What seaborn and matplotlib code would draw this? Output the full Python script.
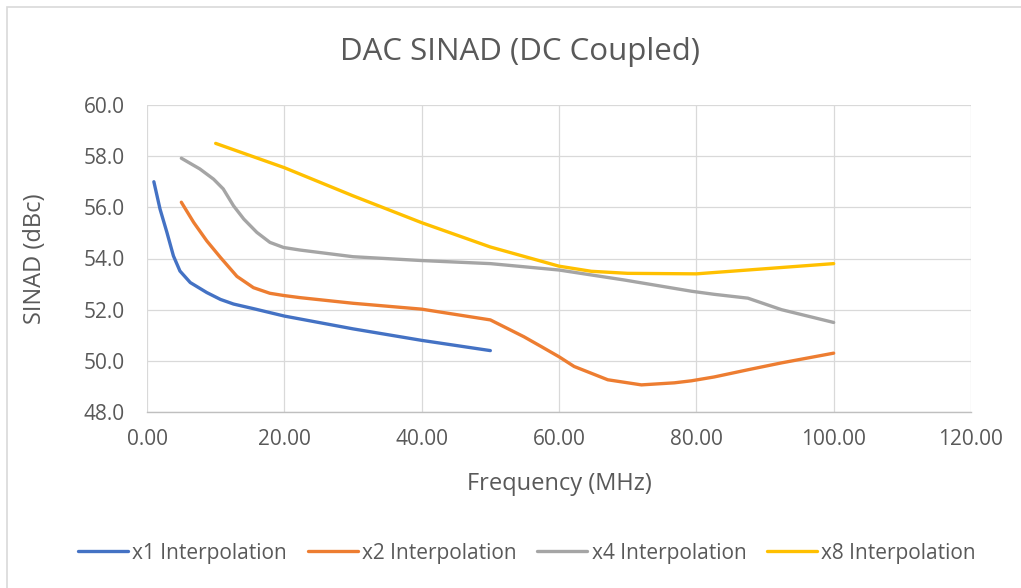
import pandas as pd
import seaborn as sns
import matplotlib.pyplot as plt
from matplotlib.patches import Rectangle

# Values (frequency in MHz, SINAD in dBc)
x1_freq = [1, 1.9, 2.9, 3.85, 4.8, 6.3, 8.7, 10.7, 12.6, 15.5, 20, 30, 40, 50]
x1_sinad = [57.0, 55.93, 55.02, 54.1, 53.51, 53.06, 52.67, 52.4, 52.22, 52.04, 51.75, 51.25, 50.8, 50.4]

x2_freq = [5, 6.8, 8.7, 10.7, 13.1, 15.5, 17.9, 20, 22.3, 30, 40, 50, 54.9, 57.4, 60,
           62.2, 67.1, 72, 76.8, 79.3, 82.6, 87.5, 92.4, 100]
x2_sinad = [56.2, 55.41, 54.69, 54.04, 53.3, 52.86, 52.64, 52.55, 52.47, 52.25, 52.02, 51.6, 50.94,
            50.56, 50.16, 49.78, 49.26, 49.06, 49.14, 49.22, 49.37, 49.65, 49.92, 50.3]

x4_freq = [5, 7.7, 9.7, 11.1, 12.6, 14.1, 16, 17.9, 19.9, 22.3, 30, 40, 50, 60, 69.5, 79.3, 82.6,
           87.5, 92.4, 100]
x4_sinad = [57.92, 57.5, 57.1, 56.72, 56.06, 55.54, 55.02, 54.63, 54.43, 54.33, 54.07, 53.92, 53.8,
            53.55, 53.16, 52.72, 52.6, 52.45, 52.0, 51.5]

x8_freq = [10, 20, 30, 40, 50, 60, 64.7, 70, 80, 87.5, 100]
x8_sinad = [58.5, 57.55, 56.45, 55.4, 54.45, 53.7, 53.5, 53.42, 53.4, 53.55, 53.8]

labels = ['x1 Interpolation', 'x2 Interpolation', 'x4 Interpolation', 'x8 Interpolation']
colors = ['#4472C4', '#ED7D31', '#A5A5A5', '#FFC000']

frames = []
for lab, f, s in zip(labels, [x1_freq, x2_freq, x4_freq, x8_freq],
                     [x1_sinad, x2_sinad, x4_sinad, x8_sinad]):
    frames.append(pd.DataFrame({'freq': f, 'sinad': s, 'series': lab}))
df = pd.concat(frames, ignore_index=True)

sns.set_theme(style='whitegrid')
plt.rcParams['font.family'] = ['Open Sans', 'DejaVu Sans']
text_col = '#595959'

fig = plt.figure(figsize=(10.21, 5.88), dpi=100)
ax = fig.add_axes([147 / 1021, 1 - 412 / 588, (971 - 147) / 1021, (412 - 105) / 588])

sns.lineplot(data=df, x='freq', y='sinad', hue='series', palette=dict(zip(labels, colors)),
             sort=False, estimator=None, linewidth=2.4, ax=ax, legend=True)
for line in ax.lines:
    line.set_solid_joinstyle('round')
    line.set_solid_capstyle('round')

ax.set_xlim(0, 120)
ax.set_ylim(48, 60)
ax.set_xticks(range(0, 121, 20))
ax.set_xticklabels([f'{v:.2f}' for v in range(0, 121, 20)])
ax.set_yticks(range(48, 61, 2))
ax.set_yticklabels([f'{v:.1f}' for v in range(48, 61, 2)])
ax.grid(True, color='#D9D9D9', linewidth=0.9)
for side in ['left', 'top', 'right']:
    ax.spines[side].set_visible(False)
ax.spines['bottom'].set_color('#BFBFBF')
ax.spines['bottom'].set_linewidth(1.0)
ax.tick_params(axis='both', length=0, labelsize=15, labelcolor=text_col)
ax.tick_params(axis='y', pad=16)
ax.tick_params(axis='x', pad=12)

ax.set_xlabel('Frequency (MHz)', fontsize=17, color=text_col, labelpad=16)
ax.set_ylabel('SINAD (dBc)', fontsize=17, color=text_col, labelpad=26)
fig.text(520 / 1021, 1 - 52 / 588, 'DAC SINAD (DC Coupled)', fontsize=22.5, color=text_col,
         ha='center', va='center')

ax.legend(loc='center', bbox_to_anchor=(527 / 1021, 1 - 553 / 588), bbox_transform=fig.transFigure,
          ncol=4, frameon=False, fontsize=15, handlelength=2.4, handletextpad=0.2,
          columnspacing=1.0, labelcolor=text_col)

# Chart area border
fig.add_artist(Rectangle((7 / 1021, -0.1), 1.2, 1.1 - 7 / 588, transform=fig.transFigure,
                         fill=False, edgecolor='#D9D9D9', linewidth=1.2))

plt.savefig('out.png', dpi=100)
